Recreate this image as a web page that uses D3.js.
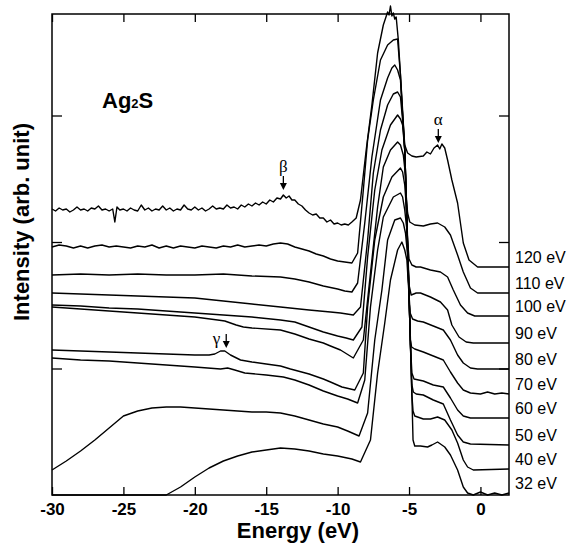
<!DOCTYPE html>
<html>
<head>
<meta charset="utf-8">
<style>
body { margin: 0; background: #fff; }
svg { display: block; font-family: "Liberation Sans", Arial, sans-serif; }
.xaxis .tick text { font-weight: bold; font-size: 17px; }
.tick line { stroke: #000; stroke-width: 1.3; }
</style>
</head>
<body>
<svg id="chart" width="570" height="544"></svg>
<script src="https://cdn.jsdelivr.net/npm/d3@7"></script>
<script>
// spectra: [binding energy (eV), intensity (counts, arb.)]
var s120 = [[-30,286],[-29.75,284],[-29.5,287],[-29.25,285],[-29,286],[-28.75,283],[-28.5,285],[-28.25,288],[-28,285],[-27.75,286],[-27.5,284],[-27.25,287],[-27,286],[-26.75,289],[-26.5,285],[-26.25,286],[-26,284],[-25.75,286],[-25.6,273],[-25.45,288],[-25.25,285],[-25,286],[-24.75,284],[-24.5,287],[-24.25,285],[-24,284],[-23.75,290],[-23.5,285],[-23.25,287],[-23,284],[-22.75,286],[-22.5,285],[-22.25,289],[-22,285],[-21.75,287],[-21.5,284],[-21.25,286],[-21,285],[-20.75,290],[-20.5,286],[-20.25,285],[-20,288],[-19.75,285],[-19.5,287],[-19.25,284],[-19,286],[-18.75,289],[-18.5,286],[-18.25,287],[-18,286],[-17.75,290],[-17.5,287],[-17.25,288],[-17,286],[-16.75,290],[-16.5,288],[-16.25,291],[-16,289],[-15.75,292],[-15.5,290],[-15.25,293],[-15,291],[-14.75,295],[-14.5,293],[-14.25,297],[-14,296],[-13.8,300],[-13.6,297],[-13.4,299],[-13.2,295],[-13,295],[-12.75,291],[-12.5,289],[-12.25,285],[-12,282],[-11.75,280],[-11.5,281],[-11.25,277],[-11,277],[-10.75,273],[-10.5,275],[-10.25,271],[-10,272],[-9.75,270],[-9.5,271],[-9.25,270],[-9,273],[-8.7,277],[-8.4,295],[-8.2,320],[-8,345],[-7.6,390],[-7.2,442],[-6.8,470],[-6.5,483],[-6.4,480],[-6.3,489],[-6.2,479],[-6.1,482],[-6,476],[-5.9,478],[-5.75,455],[-5.6,420],[-5.45,380],[-5.3,350],[-5.1,342],[-4.8,339],[-4.5,338],[-4,339],[-3.75,343],[-3.5,341],[-3.25,347],[-3,350],[-2.85,346],[-2.7,351],[-2.5,347],[-2.3,335],[-2,315],[-1.6,292],[-1.2,252],[-0.8,235],[-0.2,228],[2,228]];
var s110 = [[-30,248],[-29.5,250],[-29,249],[-28.5,247],[-28,249],[-27.5,247],[-27,249],[-26.5,250],[-26,248],[-25.5,249],[-25,248],[-24.5,247],[-24,249],[-23.5,248],[-23,250],[-22.5,247],[-22,249],[-21.5,247],[-21,249],[-20.5,248],[-20,247],[-19.5,249],[-19,248],[-18.5,247],[-18,249],[-17.5,248],[-17,250],[-16.5,248],[-16,249],[-15.5,250],[-15,249],[-14.5,251],[-14,252],[-13.5,251],[-13,248],[-12.5,246],[-12,244],[-11.5,241],[-11,239],[-10.5,236],[-10,234],[-9.5,233],[-9,232],[-8.6,242],[-8.2,305],[-7.9,355],[-7.5,395],[-7,435],[-6.5,450],[-6.1,455],[-5.8,456],[-5.6,420],[-5.43,380],[-5.3,345],[-5.2,300],[-5.1,282],[-4.95,273],[-4.6,270],[-4,269],[-3.5,271],[-3,272],[-2.5,268],[-2.1,260],[-1.6,240],[-1.2,223],[-0.7,207],[-0.2,202],[2,202]];
var s100 = [[-30,220],[-28,221],[-26,220],[-24,221],[-22,220],[-20,220],[-18,221],[-16,219],[-14,218],[-13,216],[-12,213],[-11,209],[-10,206],[-9.5,204],[-9,203],[-8.6,212],[-8.1,272],[-7.6,338],[-7,395],[-6.5,417],[-6.2,427],[-6,430],[-5.8,425],[-5.6,415],[-5.45,380],[-5.3,345],[-5.2,300],[-5.1,255],[-5,236],[-4.8,230],[-4.5,228],[-4.2,228],[-3.5,225],[-2.8,223],[-2.3,218],[-1.9,205],[-1.4,190],[-0.9,182],[-0.4,179],[2,179]];
var s90 = [[-30,202],[-28,201],[-26,200],[-24,199],[-22,198],[-20,197],[-18,194],[-16,191],[-14,188],[-12,185],[-10.5,183],[-9.8,182],[-8.9,180],[-8.4,188],[-7.9,255],[-7.5,322],[-7,365],[-6.5,390],[-6.1,401],[-5.8,403],[-5.6,398],[-5.45,375],[-5.3,345],[-5.2,300],[-5.1,250],[-5,210],[-4.85,200],[-4.5,202],[-4.2,202],[-3.5,198],[-2.8,193],[-2.3,185],[-2,170],[-1.5,158],[-1,153],[-0.5,152],[2,152]];
var s80 = [[-30,190],[-28,189],[-26,187],[-24,186],[-22,184],[-20,182],[-18,180],[-16,178],[-14,175],[-13,173],[-12,168],[-11,163],[-10,159],[-9.4,157],[-8.9,155],[-8.3,168],[-7.9,238],[-7.4,305],[-6.9,345],[-6.3,370],[-5.8,380],[-5.6,376],[-5.45,370],[-5.3,345],[-5.2,300],[-5.1,250],[-5,200],[-4.92,182],[-4.75,176],[-4.4,174],[-4,173],[-3.3,169],[-2.6,165],[-2.1,155],[-1.6,140],[-1.2,132],[-0.7,127],[-0.2,126],[2,126]];
var s70 = [[-30,188],[-28,186],[-26,184],[-24,182],[-22,180],[-20,178],[-18.4,175],[-17.9,174],[-17.5,172],[-17.1,170],[-16.6,168],[-16,167],[-14,165],[-13,161],[-12,156],[-11,152],[-10.5,149],[-9.8,145],[-8.9,137],[-8.2,155],[-7.7,222],[-7.2,288],[-6.8,328],[-6.3,345],[-5.8,353],[-5.6,350],[-5.4,340],[-5.25,320],[-5.1,250],[-5,200],[-4.9,155],[-4.82,148],[-4.6,146],[-4,143],[-3.3,139],[-2.6,135],[-2.1,123],[-1.6,112],[-1.2,105],[-0.7,102],[0,101],[0.5,103],[1,101],[1.5,102],[2,101]];
var s60 = [[-30,145],[-28,144],[-26,143],[-24,142],[-22,141],[-20,140],[-19,140],[-18.6,141],[-18.2,144],[-17.9,144],[-17.5,140],[-16.8,135],[-16,133],[-15,131],[-14,129],[-13.3,126],[-12,121],[-11,116],[-10.5,113],[-9.7,108],[-8.8,105],[-8.2,122],[-7.9,188],[-7.4,255],[-6.8,298],[-6.2,318],[-5.6,327],[-5.45,323],[-5.3,310],[-5.2,290],[-5.1,250],[-5,200],[-4.9,150],[-4.8,122],[-4.65,116],[-4,114],[-3.3,110],[-2.6,108],[-2.1,97],[-1.6,85],[-1.2,79],[-0.7,77],[2,77]];
var s50 = [[-30,137],[-28,135],[-26,134],[-24,132],[-22,130],[-20,128],[-18.2,126],[-17.7,127],[-17.2,125],[-16.5,122],[-15,120],[-13.8,118],[-13,115],[-12,110],[-11,104],[-10,99],[-9.3,96],[-8.6,92],[-8.1,115],[-7.7,188],[-7.2,245],[-6.8,278],[-6.1,298],[-5.6,302],[-5.45,298],[-5.3,285],[-5.15,265],[-5,200],[-4.9,150],[-4.8,110],[-4.7,103],[-4.5,101],[-4,100],[-3.3,95],[-2.6,91],[-2.1,75],[-1.6,60],[-1.2,53],[-0.7,51],[2,50]];
var s40 = [[-30,25],[-29,34],[-28,44],[-27,55],[-26,67],[-25,79],[-24,84],[-23,87],[-22,88],[-21,88],[-20,87],[-19,86],[-18,85],[-17,84],[-16,83],[-15,83],[-14,82],[-13,79],[-12,75],[-11,71],[-10,68],[-9.3,64],[-8.5,59],[-7.9,82],[-7.4,155],[-6.9,205],[-6.5,255],[-6,275],[-5.6,277],[-5.4,272],[-5.25,262],[-5.1,240],[-5,200],[-4.9,150],[-4.8,100],[-4.72,84],[-4.6,79],[-4,76],[-3.5,76],[-3,78],[-2.5,75],[-2,65],[-1.6,52],[-1.2,35],[-0.9,28],[-0.5,25],[2,26]];
var s32 = [[-30,0],[-22,0],[-21,8],[-20,18],[-19,27],[-18,34],[-17,39],[-16,43],[-15,45],[-14,47],[-13,46],[-12,44],[-11,41],[-10,39],[-9,36],[-8.4,33],[-7.7,55],[-7.2,122],[-6.7,172],[-6.3,215],[-5.8,245],[-5.5,253],[-5.3,245],[-5.15,235],[-5,200],[-4.9,150],[-4.8,100],[-4.72,55],[-4.6,49],[-4.2,49],[-3.7,48],[-3.4,50],[-3,53],[-2.5,48],[-2.1,40],[-1.6,25],[-1.2,8],[-0.9,2],[-0.5,0],[0,3],[0.5,0],[1,2],[1.5,0],[2,2]];

var photonEnergies = ["120 eV", "110 eV", "100 eV", "90 eV", "80 eV", "70 eV", "60 eV", "50 eV", "40 eV", "32 eV"];
var spectra = [s120, s110, s100, s90, s80, s70, s60, s50, s40, s32];

var xTicks = [-30, -25, -20, -15, -10, -5, 0];
var yTicks = [126.5, 253, 379.5];

// peak markers: symbol, energy, intensity at the arrow tip
var markers = [
  { sym: "\u03b2", e: -13.8, at: 305, side: "top" },
  { sym: "\u03b1", e: -2.95, at: 352, side: "top" },
  { sym: "\u03b3", e: -17.8, at: 147, side: "left" }
];

var svg = d3.select("#chart");

var x = d3.scaleLinear().domain([-30, 2]).range([52, 509]);
var y = d3.scaleLinear().domain([0, 481]).range([495, 14]);

// axes, ticks inside
svg.append("g").attr("class", "xaxis")
    .attr("transform", "translate(0,495)")
    .call(d3.axisBottom(x).tickValues(xTicks).tickSize(-8).tickSizeOuter(0).tickPadding(8)
      .tickFormat(function(d){ return String(d); }))
    .call(function(g){ g.select(".domain").remove(); });

svg.append("g")
    .attr("transform", "translate(0,14)")
    .call(d3.axisTop(x).tickValues(xTicks).tickSize(-8).tickSizeOuter(0).tickFormat(""))
    .call(function(g){ g.select(".domain").remove(); });

svg.append("g")
    .attr("transform", "translate(52,0)")
    .call(d3.axisLeft(y).tickValues(yTicks).tickSize(-10).tickSizeOuter(0).tickFormat(""))
    .call(function(g){ g.select(".domain").remove(); });

svg.append("g")
    .attr("transform", "translate(509,0)")
    .call(d3.axisRight(y).tickValues(yTicks).tickSize(-10).tickSizeOuter(0).tickFormat(""))
    .call(function(g){ g.select(".domain").remove(); });

svg.append("rect")
    .attr("x", x(-30)).attr("y", y(481))
    .attr("width", x(2) - x(-30)).attr("height", y(0) - y(481))
    .attr("fill", "none").attr("stroke", "#000").attr("stroke-width", 1.5);

var line = d3.line()
    .x(function(d){ return x(d[0]); })
    .y(function(d){ return y(d[1]); });

svg.append("g").selectAll("path")
    .data(spectra)
  .enter().append("path")
    .attr("d", line)
    .attr("fill", "none")
    .attr("stroke", "#000")
    .attr("stroke-width", 1.4)
    .attr("stroke-linejoin", "round");

// photon energy labels at the right end of each curve
svg.append("g").selectAll("text")
    .data(spectra)
  .enter().append("text")
    .attr("x", 515)
    .attr("y", function(d){ return y(d[d.length - 1][1]) - 4; })
    .attr("font-size", 16)
    .text(function(d, i){ return photonEnergies[i]; });

// arrows
markers.forEach(function(m){
  var tx = x(m.e), ty = y(m.at);
  svg.append("line")
      .attr("x1", tx).attr("x2", tx)
      .attr("y1", ty - 14).attr("y2", ty - 5)
      .attr("stroke", "#000").attr("stroke-width", 1.3);
  svg.append("path")
      .attr("d", "M" + (tx - 3.5) + "," + (ty - 7) + "L" + (tx + 3.5) + "," + (ty - 7) + "L" + tx + "," + ty + "Z")
      .attr("fill", "#000");
  var t = svg.append("text")
      .attr("font-family", "'Liberation Serif', 'Times New Roman', serif")
      .attr("font-size", 17)
      .text(m.sym);
  if (m.side === "top") {
    t.attr("x", tx).attr("y", ty - 18).attr("text-anchor", "middle");
  } else {
    t.attr("x", tx - 6).attr("y", ty - 4).attr("text-anchor", "end");
  }
});

// sample label
var lab = svg.append("text")
    .attr("x", 102).attr("y", 108)
    .attr("font-weight", "bold").attr("font-size", 22);
lab.append("tspan").text("Ag");
lab.append("tspan").attr("font-size", 13).text("2");
lab.append("tspan").text("S");

// axis titles
svg.append("text")
    .attr("x", 298).attr("y", 538)
    .attr("text-anchor", "middle")
    .attr("font-weight", "bold").attr("font-size", 22)
    .text("Energy (eV)");

svg.append("text")
    .attr("transform", "translate(29,222) rotate(-90)")
    .attr("text-anchor", "middle")
    .attr("font-weight", "bold").attr("font-size", 22)
    .text("Intensity (arb. unit)");
</script>
</body>
</html>
